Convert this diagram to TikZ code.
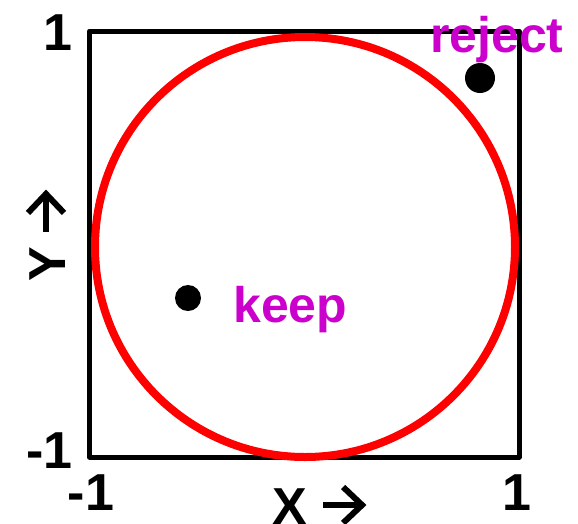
\documentclass[tikz,border=0pt]{standalone}
\usepackage{fontspec}
\setmainfont{Liberation Sans}
\usepackage{tikz}

\definecolor{circred}{RGB}{255,0,0}
\definecolor{labmag}{RGB}{204,0,204}

\tikzset{
  axlabel/.style={font=\bfseries\fontsize{52}{52}\selectfont, inner sep=0pt},
  ptlabel/.style={font=\bfseries\fontsize{50}{50}\selectfont, text=labmag, inner sep=0pt},
  axarrow/.style={line width=6pt, line join=miter},
  sample/.style={circle, fill=black, inner sep=0pt}
}

\begin{document}
\begin{tikzpicture}[x=1pt,y=-1pt]
\useasboundingbox (0,0) rectangle (578,523);

% Square [-1,1]^2
\draw[line width=5pt, line join=round] (89.5,31) rectangle (519,457);

% Unit circle
\draw[circred, line width=8pt] (305,247) circle[radius=210];

% Axis values
\node[axlabel, anchor=base east] (ytop) at (73,50) {1};
\node[axlabel, anchor=base east] (ybot) at (73,468) {-1};
\node[axlabel, anchor=base] (xleft) at (91,510) {-1};
\node[axlabel, anchor=base] (xright) at (517,510) {1};

% Axis names with arrows
\node[axlabel, anchor=base west] (xname) at (272,524) {X};
\draw[axarrow] ([shift={(16,-19)}]xname.base east) -- ++(39,0) coordinate (xtip);
\draw[axarrow] (xtip) ++(-19,-18) -- (xtip) -- ++(-19,18);

\node[axlabel, anchor=base west, rotate=90] (yname) at (65,282) {Y};
\draw[axarrow] ([shift={(-19,-15)}]yname.base east) -- ++(0,-38) coordinate (ytip);
\draw[axarrow] (ytip) ++(-18,19) -- (ytip) -- ++(18,19);

% Sample points
\node[sample, minimum size=30pt] (rejectpt) at (480,78) {};
\node[ptlabel, anchor=base west] (rejectlab) at (430,52) {reject};

\node[sample, minimum size=26pt] (keeppt) at (188,298) {};
\node[ptlabel, anchor=base west] (keeplab) at (233,322) {keep};
\end{tikzpicture}
\end{document}
